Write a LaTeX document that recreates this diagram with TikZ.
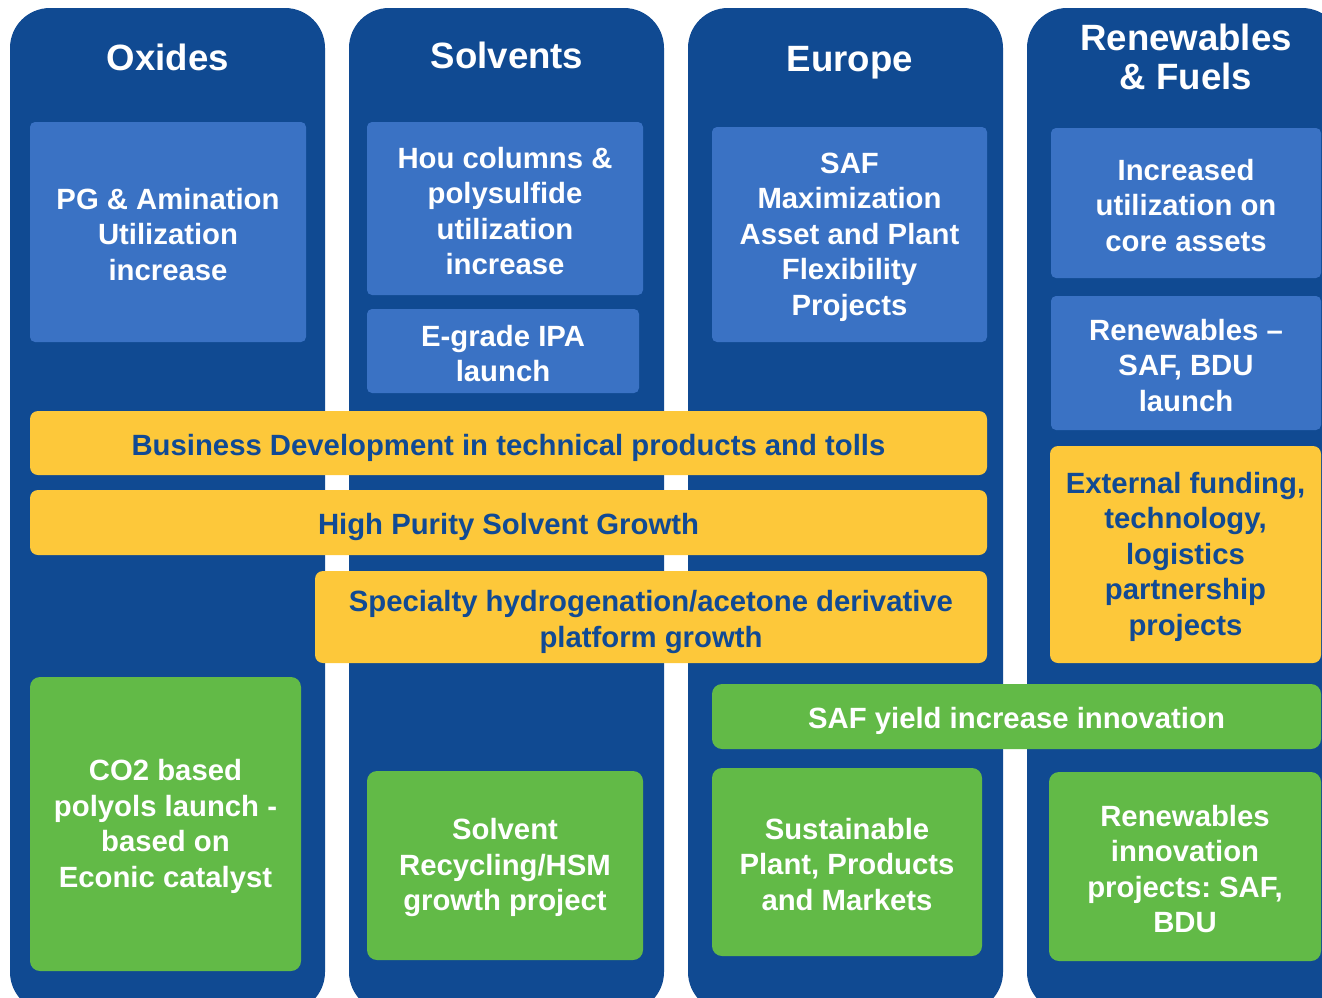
\documentclass[tikz,border=0pt]{standalone}
\usepackage{fontspec}
\setmainfont{Liberation Sans}
\frenchspacing
\usetikzlibrary{fit}
\definecolor{colblue}{RGB}{16,74,146}
\definecolor{boxblue}{RGB}{58,114,196}
\definecolor{boxyellow}{RGB}{253,200,58}
\definecolor{boxgreen}{RGB}{98,186,71}
\definecolor{ytext}{RGB}{17,74,148}
\begin{document}
\begin{tikzpicture}[x=0.5pt,y=-0.5pt,
  col/.style={fill=colblue, rounded corners=20pt, inner sep=0pt},
  coltitle/.style={text=white, font=\bfseries\fontsize{18.3}{19.5}\selectfont, align=center, inner sep=0pt},
  boxbase/.style={inner sep=0pt},
  bluebox/.style={boxbase, fill=boxblue, rounded corners=2.5pt},
  yellowbox/.style={boxbase, fill=boxyellow, rounded corners=4pt},
  greenbox/.style={boxbase, fill=boxgreen, rounded corners=5pt},
  txt/.style={inner sep=0pt, align=center, yshift=-1.2pt, font=\bfseries\fontsize{14.65}{17.75}\selectfont},
  wtxt/.style={txt, text=white},
  ytxt/.style={txt, text=ytext},
  oneline/.style={yshift=-1.2pt}]
\useasboundingbox (0,0) rectangle (1322,997);
\clip (0,0) rectangle (1322,997);
% columns
\node[col, fit={(10,8) (325,1012)}] (c1) {};
\node[col, fit={(349,8) (664,1012)}] (c2) {};
\node[col, fit={(688,8) (1003,1012)}] (c3) {};
\node[col, fit={(1027,8) (1342,1012)}] (c4) {};
% titles
\node[coltitle, anchor=base] (t1) at (168,70) {Oxides};
\node[coltitle, anchor=base] (t2) at (507,68) {Solvents};
\node[coltitle, anchor=base] (t3) at (850,71) {Europe};
\node[coltitle] (t4) at (1186,57) {Renewables\\\& Fuels};
% column 1
\node[bluebox, fit={(30,122) (306,342)}] (pg) {};
\node[wtxt] (pgt) at (pg.center) {PG \& Amination\\Utilization\\increase};
\node[greenbox, fit={(30,677) (301,971)}] (co2) {};
\node[wtxt] (co2t) at (co2.center) {CO2 based\\polyols launch -\\based on\\Econic catalyst};
% column 2
\node[bluebox, fit={(367,122) (643,295)}] (hou) {};
\node[wtxt] (hout) at (hou.center) {Hou columns \&\\polysulfide\\utilization\\increase};
\node[bluebox, fit={(367,309) (639,393)}] (ipa) {};
\node[wtxt] (ipat) at (ipa.center) {E-grade IPA\\launch};
\node[greenbox, fit={(367,771) (643,960)}] (rec) {};
\node[wtxt] (rect) at (rec.center) {Solvent\\Recycling/HSM\\growth project};
% column 3
\node[bluebox, fit={(712,127) (987,342)}] (saf) {};
\node[wtxt] (saft) at (saf.center) {SAF\\Maximization\\Asset and Plant\\Flexibility\\Projects};
\node[greenbox, fit={(712,768) (982,956)}] (sus) {};
\node[wtxt] (sust) at (sus.center) {Sustainable\\Plant, Products\\and Markets};
% column 4
\node[bluebox, fit={(1051,128) (1321,278)}] (inc) {};
\node[wtxt] (inct) at (inc.center) {Increased\\utilization on\\core assets};
\node[bluebox, fit={(1051,296) (1321,430)}] (ren) {};
\node[wtxt] (rent) at (ren.center) {Renewables --\\SAF, BDU\\launch};
\node[yellowbox, fit={(1050,446) (1321,663)}] (ext) {};
\node[ytxt] (extt) at (ext.center) {External funding,\\technology,\\logistics\\partnership\\projects};
\node[greenbox, fit={(1049,772) (1321,961)}] (rin) {};
\node[wtxt] (rint) at (rin.center) {Renewables\\innovation\\projects: SAF,\\BDU};
% spanning bars
\node[yellowbox, fit={(30,411) (987,475)}] (bd) {};
\node[ytxt, oneline] (bdt) at (bd.center) {Business Development in technical products and tolls};
\node[yellowbox, fit={(30,490) (987,555)}] (hp) {};
\node[ytxt, oneline] (hpt) at (hp.center) {High Purity Solvent Growth};
\node[yellowbox, fit={(315,571) (987,663)}] (sp) {};
\node[ytxt, oneline] (spt) at (sp.center) {Specialty hydrogenation/acetone derivative\\platform growth};
\node[greenbox, fit={(712,684) (1321,749)}] (sy) {};
\node[wtxt, oneline] (syt) at (sy.center) {SAF yield increase innovation};
\end{tikzpicture}
\end{document}
